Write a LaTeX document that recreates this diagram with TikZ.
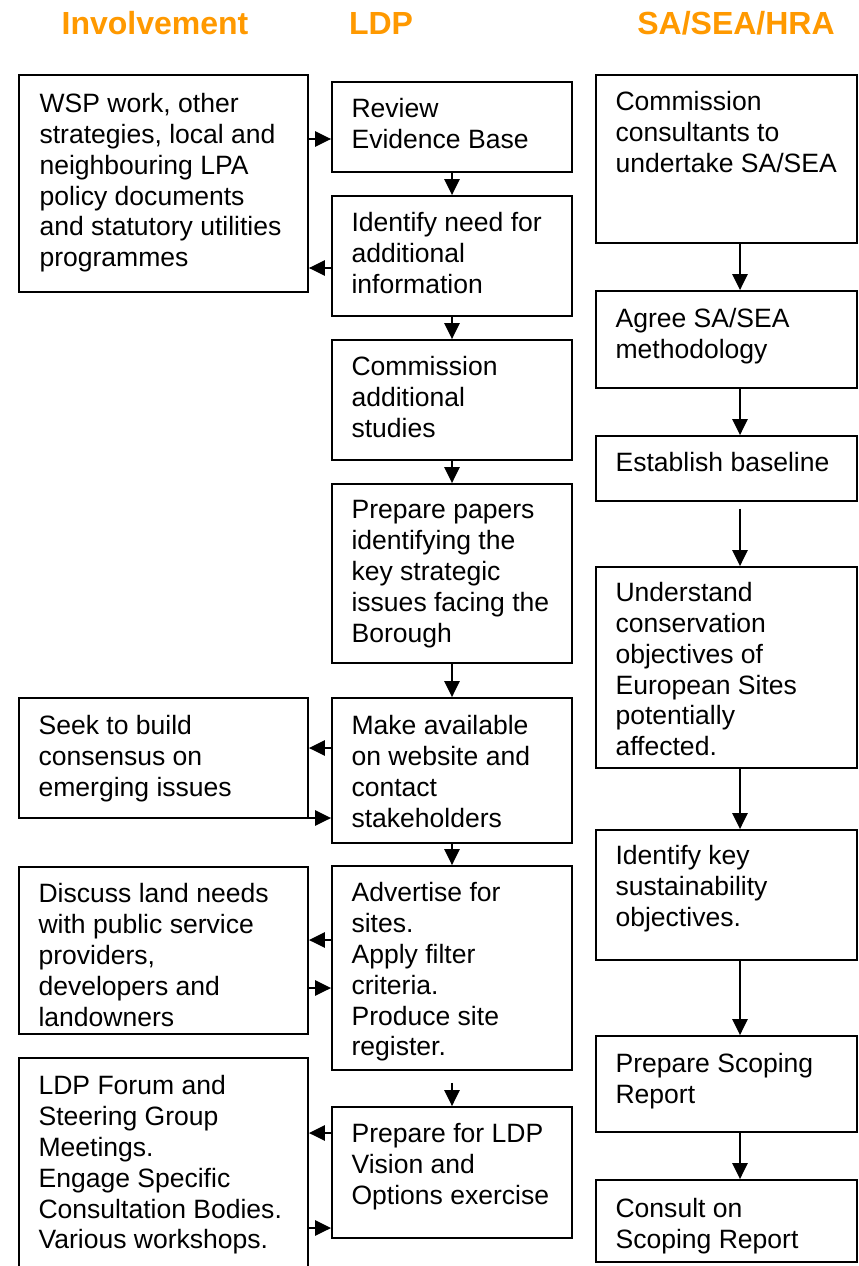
\documentclass[tikz,border=0pt]{standalone}
\usepackage{fontspec}
\setmainfont{Liberation Sans}
\usetikzlibrary{arrows.meta,fit}
\definecolor{headorange}{RGB}{255,153,0}

\tikzset{every picture/.style={line width=0.75pt}}
\tikzset{
  stage/.style={draw, line width=1.4pt, inner sep=0pt},
  stagetext/.style={anchor=north west, inner sep=0pt, align=left, font=\fontsize{19.9pt}{23.1pt}\selectfont},
  colhead/.style={anchor=base, text=headorange, font=\fontsize{24pt}{28pt}\selectfont\bfseries},
  flow/.style={line width=1.1pt, -{Triangle[length=12pt,width=11.5pt]}}
}

\begin{document}
\begin{tikzpicture}[x=0.75pt,y=0.75pt,yscale=-1,xscale=1]
\useasboundingbox (0,0) rectangle (859,1266);

% Column heads
\node[colhead] (hinv) at (155,35) {Involvement};
\node[colhead] (hldp) at (381,35) {LDP};
\node[colhead] (hsa) at (736,35) {SA/SEA/HRA};

%Shape: Rectangles, involvement column
\node[stage, fit={(19,75) (308,292)}] (l1) {};
\node[stage, fit={(19,698) (308,818)}] (l2) {};
\node[stage, fit={(19,867) (308,1034)}] (l3) {};
\node[stage, fit={(19,1058) (308,1290)}] (l4) {};
%Shape: Rectangles, LDP column
\node[stage, fit={(332,82) (572,172)}] (m1) {};
\node[stage, fit={(332,196) (572,316)}] (m2) {};
\node[stage, fit={(332,340) (572,460)}] (m3) {};
\node[stage, fit={(332,484) (572,663)}] (m4) {};
\node[stage, fit={(332,698) (572,843)}] (m5) {};
\node[stage, fit={(332,866) (572,1070)}] (m6) {};
\node[stage, fit={(332,1107) (572,1238)}] (m7) {};
%Shape: Rectangles, SA/SEA/HRA column
\node[stage, fit={(596,75) (857,243)}] (r1) {};
\node[stage, fit={(596,291) (857,388)}] (r2) {};
\node[stage, fit={(596,436) (857,501)}] (r3) {};
\node[stage, fit={(596,567) (857,768)}] (r4) {};
\node[stage, fit={(596,830) (857,960)}] (r5) {};
\node[stage, fit={(596,1036) (857,1132)}] (r6) {};
\node[stage, fit={(596,1180) (857,1262)}] (r7) {};

% Text Node
\node[stagetext] (l1t) at ([shift={(21,19)}]l1.north west) {WSP work, other\\strategies, local and\\neighbouring LPA\\policy documents\\and statutory utilities\\programmes};
% Text Node
\node[stagetext] (l2t) at ([shift={(20,18)}]l2.north west) {Seek to build\\consensus on\\emerging issues};
% Text Node
\node[stagetext] (l3t) at ([shift={(20,17)}]l3.north west) {Discuss land needs\\with public service\\providers,\\developers and\\landowners};
% Text Node
\node[stagetext] (l4t) at ([shift={(20,18)}]l4.north west) {LDP Forum and\\Steering Group\\Meetings.\\Engage Specific\\Consultation Bodies.\\Various workshops.};

% Text Node
\node[stagetext] (m1t) at ([shift={(20,17)}]m1.north west) {Review\\Evidence Base};
% Text Node
\node[stagetext] (m2t) at ([shift={(20,17)}]m2.north west) {Identify need for\\additional\\information};
% Text Node
\node[stagetext] (m3t) at ([shift={(20,17)}]m3.north west) {Commission\\additional\\studies};
% Text Node
\node[stagetext] (m4t) at ([shift={(20,17)}]m4.north west) {Prepare papers\\identifying the\\key strategic\\issues facing the\\Borough};
% Text Node
\node[stagetext] (m5t) at ([shift={(20,18)}]m5.north west) {Make available\\on website and\\contact\\stakeholders};
% Text Node
\node[stagetext] (m6t) at ([shift={(20,17)}]m6.north west) {Advertise for\\sites.\\Apply filter\\criteria.\\Produce site\\register.};
% Text Node
\node[stagetext] (m7t) at ([shift={(20,17)}]m7.north west) {Prepare for LDP\\Vision and\\Options exercise};

% Text Node
\node[stagetext] (r1t) at ([shift={(20,17)}]r1.north west) {Commission\\consultants to\\undertake SA/SEA};
% Text Node
\node[stagetext] (r2t) at ([shift={(20,18)}]r2.north west) {Agree SA/SEA\\methodology};
% Text Node
\node[stagetext] (r3t) at ([shift={(20,17)}]r3.north west) {Establish baseline};
% Text Node
\node[stagetext] (r4t) at ([shift={(20,16)}]r4.north west) {Understand\\conservation\\objectives of\\European Sites\\potentially\\affected.};
% Text Node
\node[stagetext] (r5t) at ([shift={(20,16)}]r5.north west) {Identify key\\sustainability\\objectives.};
% Text Node
\node[stagetext] (r6t) at ([shift={(20,18)}]r6.north west) {Prepare Scoping\\Report};
% Text Node
\node[stagetext] (r7t) at ([shift={(20,19)}]r7.north west) {Consult on\\Scoping Report};

%Straight Lines, LDP column
\draw[flow] (m1) -- (m2);
\draw[flow] (m2) -- (m3);
\draw[flow] (m3) -- (m4);
\draw[flow] (m4) -- (m5);
\draw[flow] (m5) -- (m6);
\draw[flow] ([yshift=9pt]m6.south) -- (m7);

%Straight Lines, SA/SEA/HRA column
\draw[flow] (r1.south -| 740,0) -- (r2.north -| 740,0);
\draw[flow] (r2.south -| 740,0) -- (r3.north -| 740,0);
\draw[flow] ([yshift=5pt]r3.south -| 740,0) -- (r4.north -| 740,0);
\draw[flow] (r4.south -| 740,0) -- (r5.north -| 740,0);
\draw[flow] (r5.south -| 740,0) -- (r6.north -| 740,0);
\draw[flow] (r6.south -| 740,0) -- (r7.north -| 740,0);

%Straight Lines, between involvement and LDP
\draw[flow] (l1.east |- 0,139) -- (m1.west |- 0,139);
\draw[flow] (m2.west |- 0,268) -- (l1.east |- 0,268);
\draw[flow] (m5.west |- 0,748) -- (l2.east |- 0,748);
\draw[flow] (l2.east |- 0,818) -- (m5.west |- 0,818);
\draw[flow] (m6.west |- 0,940) -- (l3.east |- 0,940);
\draw[flow] (l3.east |- 0,988) -- (m6.west |- 0,988);
\draw[flow] (m7.west |- 0,1133) -- (l4.east |- 0,1133);
\draw[flow] (l4.east |- 0,1228) -- (m7.west |- 0,1228);

\end{tikzpicture}
\end{document}
